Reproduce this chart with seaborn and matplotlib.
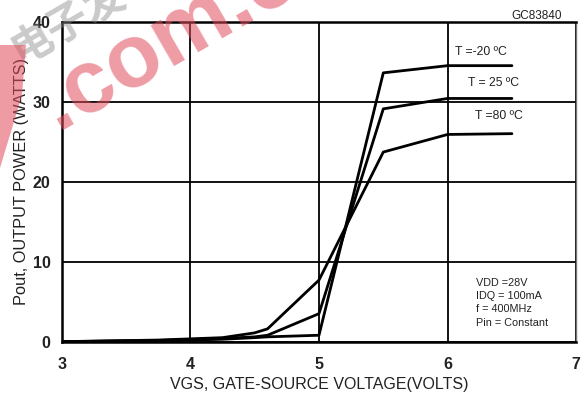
import numpy as np
import pandas as pd
import matplotlib
matplotlib.use('Agg')
from matplotlib import pyplot as plt
from matplotlib.patches import Polygon
import seaborn as sns

# Pout vs VGS
vgs = [3.0, 3.75, 4.25, 4.5, 4.6, 5.0, 5.5, 6.0, 6.5]
pout_m20 = [0.0, 0.1, 0.3, 0.5, 0.6, 0.8, 33.6, 34.5, 34.5]
pout_25 = [0.0, 0.15, 0.4, 0.6, 0.8, 3.5, 29.1, 30.4, 30.4]
pout_80 = [0.0, 0.2, 0.5, 1.1, 1.6, 7.7, 23.7, 25.9, 26.0]

labels = ['T =-20 ºC', 'T = 25 ºC', 'T =80 ºC']
label_pos = [(6.06, 35.4), (6.16, 31.6), (6.21, 27.5)]

xticks = [3, 4, 5, 6, 7]
yticks = [0, 10, 20, 30, 40]
conditions = 'VDD =28V\nIDQ = 100mA\nf = 400MHz\nPin = Constant'

df = pd.concat([
    pd.DataFrame({'vgs': vgs, 'pout': p, 'temp': l})
    for p, l in zip([pout_m20, pout_25, pout_80], labels)
])

sns.set_style('white')
plt.rcParams['font.family'] = ['Liberation Sans', 'Noto Sans CJK SC', 'DejaVu Sans']

fig = plt.figure(figsize=(5.88, 4.01), dpi=100)
ax = fig.add_axes([0.105, 0.148, 0.875, 0.798])

sns.lineplot(data=df, x='vgs', y='pout', units='temp', estimator=None,
             color='black', linewidth=2.0, ax=ax, sort=False)

ax.set_xlim(3, 7)
ax.set_ylim(0, 40)
ax.set_xticks(xticks)
ax.set_yticks(yticks)
ax.set_xticklabels([str(t) for t in xticks], fontsize=11.5, weight='bold', color='#222222')
ax.set_yticklabels([str(t) for t in yticks], fontsize=11.5, weight='bold', color='#222222')
ax.tick_params(axis='x', length=0, pad=11)
ax.tick_params(axis='y', length=0, pad=8)
ax.grid(True, color='black', linewidth=1.3)

for side in ['left', 'bottom', 'top']:
    ax.spines[side].set_color('black')
    ax.spines[side].set_linewidth(1.8)
ax.spines['right'].set_color('#777777')
ax.spines['right'].set_linewidth(1.0)

ax.set_xlabel('VGS, GATE-SOURCE VOLTAGE(VOLTS)', fontsize=11.5, color='#222222', labelpad=4)
ax.set_ylabel('Pout, OUTPUT POWER (WATTS)', fontsize=11.8, color='#222222', labelpad=3)

for l, (x, y) in zip(labels, label_pos):
    ax.text(x, y, l, fontsize=8.8, color='#222222', va='bottom')

ax.text(6.22, 2.0, conditions, fontsize=7.8, color='#222222', linespacing=1.4)
fig.text(0.956, 0.952, 'GC83840', fontsize=8.5, color='#222222', ha='right')

# watermark (drawn over the chart, semi transparent)
fig.text(20 / 588, 1 - 64 / 401, '电子发', color='#8a8a8a', alpha=0.45, fontsize=30,
         rotation=30, rotation_mode='anchor', ha='left', va='baseline',
         family=['Noto Sans CJK SC', 'DejaVu Sans'], weight='bold', zorder=10)
fig.text(58 / 588, 1 - 130 / 401, '.com.c', color='#e04a5a', alpha=0.55, fontsize=64,
         rotation=30, rotation_mode='anchor', ha='left', va='baseline',
         weight='bold', zorder=11)
fig.patches.append(Polygon([(0, 1 - 45 / 401), (26 / 588, 1 - 45 / 401),
                            (22 / 588, 1 - 95 / 401), (0, 1 - 168 / 401)],
                           closed=True, transform=fig.transFigure,
                           facecolor='#e04a5a', alpha=0.55, edgecolor='none', zorder=11))

plt.savefig('out.png', dpi=100)
